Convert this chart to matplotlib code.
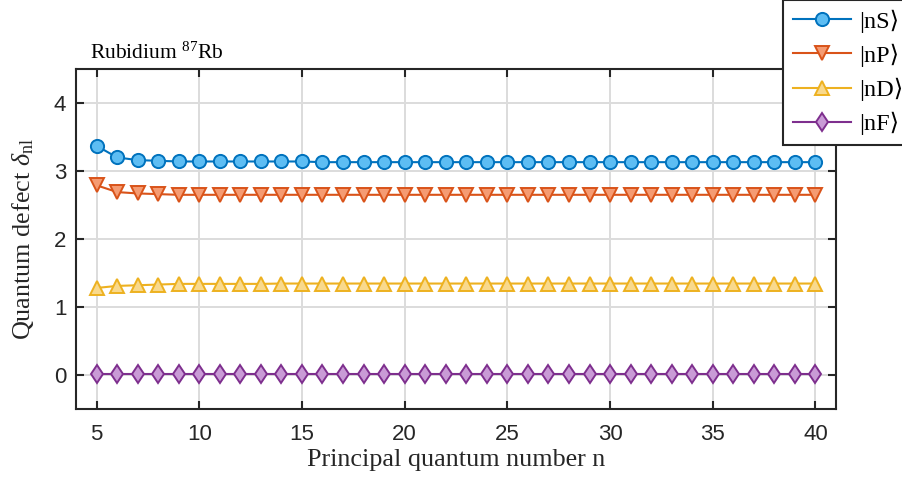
import numpy as np
import matplotlib
matplotlib.use("Agg")
import matplotlib.pyplot as plt

plt.rcParams['mathtext.fontset'] = 'custom'
plt.rcParams['mathtext.rm'] = 'Liberation Serif'
plt.rcParams['mathtext.it'] = 'Liberation Serif:italic'

# principal quantum number
n_vals = [5, 6, 7, 8, 9, 10, 11, 12, 13, 14, 15, 16, 17, 18, 19, 20, 21, 22,
          23, 24, 25, 26, 27, 28, 29, 30, 31, 32, 33, 34, 35, 36, 37, 38, 39, 40]

# quantum defects
delta_S = [3.37, 3.20, 3.16, 3.15, 3.14, 3.14, 3.14, 3.14, 3.14, 3.14, 3.14, 3.13,
           3.13, 3.13, 3.13, 3.13, 3.13, 3.13, 3.13, 3.13, 3.13, 3.13, 3.13, 3.13,
           3.13, 3.13, 3.13, 3.13, 3.13, 3.13, 3.13, 3.13, 3.13, 3.13, 3.13, 3.13]
delta_P = [2.79, 2.69, 2.67, 2.66, 2.65, 2.65, 2.65, 2.65, 2.65, 2.65, 2.65, 2.65,
           2.65, 2.65, 2.65, 2.65, 2.65, 2.65, 2.65, 2.65, 2.65, 2.65, 2.65, 2.65,
           2.65, 2.65, 2.65, 2.65, 2.65, 2.65, 2.65, 2.65, 2.65, 2.65, 2.65, 2.65]
delta_D = [1.28, 1.31, 1.32, 1.33, 1.34, 1.34, 1.34, 1.34, 1.34, 1.345, 1.345, 1.345,
           1.345, 1.345, 1.345, 1.345, 1.345, 1.345, 1.345, 1.345, 1.345, 1.345, 1.345, 1.345,
           1.345, 1.345, 1.345, 1.345, 1.345, 1.345, 1.345, 1.345, 1.345, 1.345, 1.345, 1.345]
delta_F = [0.016, 0.016, 0.016, 0.016, 0.016, 0.016, 0.016, 0.016, 0.016, 0.016, 0.016, 0.016,
           0.016, 0.016, 0.016, 0.016, 0.016, 0.016, 0.016, 0.016, 0.016, 0.016, 0.016, 0.016,
           0.016, 0.016, 0.016, 0.016, 0.016, 0.016, 0.016, 0.016, 0.016, 0.016, 0.016, 0.016]

labels = ['|nS\u27e9', '|nP\u27e9', '|nD\u27e9', '|nF\u27e9']
series = [delta_S, delta_P, delta_D, delta_F]
line_colors = ['#0072BD', '#D95319', '#EDB120', '#7E2F8E']
face_colors = ['#5DBDF3', '#F59B72', '#F9D98C', '#C99BD6']
markers = ['o', 'v', '^', 'd']

serif = ['Liberation Serif', 'DejaVu Serif']
axis_col = '#262626'

fig = plt.figure(figsize=(9.02, 4.84), dpi=100)
ax = fig.add_axes([76 / 902, 1 - 409 / 484, 760 / 902, 340 / 484])

for y, lab, lc, fc, mk in zip(series, labels, line_colors, face_colors, markers):
    ax.plot(n_vals, y, color=lc, lw=1.5, marker=mk, markersize=9.5,
            markerfacecolor=fc, markeredgecolor=lc, markeredgewidth=1.4,
            label=lab, zorder=3)

ax.set_xlim(4, 41)
ax.set_ylim(-0.5, 4.5)
ax.set_xticks([5, 10, 15, 20, 25, 30, 35, 40])
ax.set_yticks([0, 1, 2, 3, 4])
ax.grid(True, color='#dcdcdc', lw=1.4, zorder=0)
ax.set_axisbelow(True)

for sp in ax.spines.values():
    sp.set_linewidth(1.5)
    sp.set_color(axis_col)
ax.tick_params(direction='in', length=6, width=1.5, top=True, right=True,
               colors=axis_col, labelsize=16)
ax.tick_params(axis='x', pad=11)
ax.tick_params(axis='y', pad=7)
for t in ax.get_xticklabels() + ax.get_yticklabels():
    t.set_fontfamily('Liberation Sans')

ax.set_xlabel('Principal quantum number n', fontsize=18.8, family=serif,
              color=axis_col, labelpad=3)
ax.set_ylabel(r'Quantum defect $\delta_{\rm nl}$', fontsize=18.8, family=serif,
              color=axis_col, labelpad=13)
ax.set_title(r'Rubidium $^{87}$Rb', loc='left', fontsize=15.5, family=serif,
             color='black', pad=7, x=0.018)

leg = ax.legend(loc='lower left', bbox_to_anchor=(783 / 902, 1 - 145 / 484),
                bbox_transform=fig.transFigure, fancybox=False, framealpha=1,
                edgecolor=axis_col, handlelength=2.4, handletextpad=0.35,
                labelspacing=0.45, borderaxespad=0, borderpad=0.4,
                prop={'family': serif, 'size': 17.5})
leg.get_frame().set_linewidth(1.5)

fig.savefig('out.png', dpi=100)
